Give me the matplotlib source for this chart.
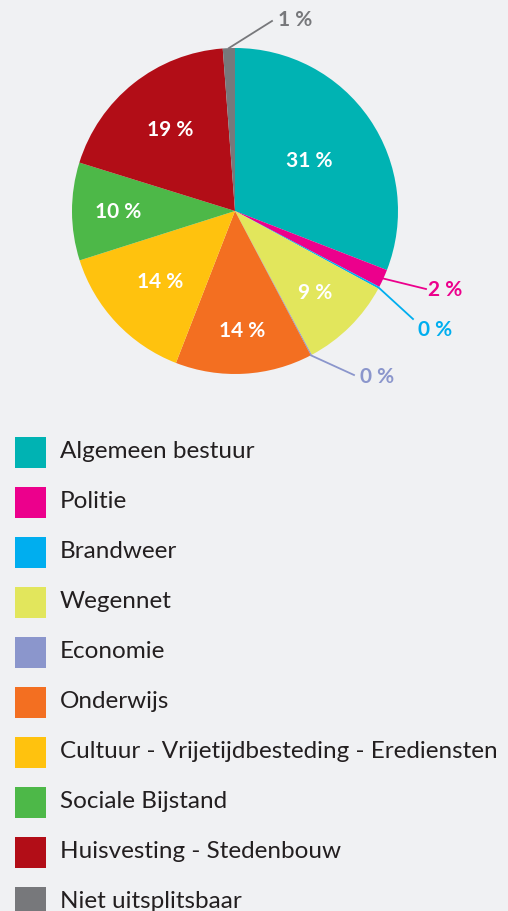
import numpy as np
import matplotlib.pyplot as plt
from matplotlib.patches import Rectangle

# categories en waarden (percentages)
categorieen = ["Algemeen bestuur", "Politie", "Brandweer", "Wegennet", "Economie",
               "Onderwijs", "Cultuur - Vrijetijdbesteding - Erediensten",
               "Sociale Bijstand", "Huisvesting - Stedenbouw", "Niet uitsplitsbaar"]
waarden = [30.9, 1.8, 0.2, 9.3, 0.1, 13.6, 14.2, 9.7, 19.0, 1.2]
labels = ["31 %", "2 %", "0 %", "9 %", "0 %", "14 %", "14 %", "10 %", "19 %", "1 %"]
kleuren = ["#00B3B3", "#EC008C", "#00AEEF", "#E2E65C", "#8B96CC",
           "#F36F21", "#FFC20E", "#4DB848", "#B20D17", "#77787B"]
# afstand van label tot middelpunt (None = label buiten de taart)
afstand = [0.55, None, None, 0.70, None, 0.73, 0.63, 0.72, 0.64, None]

achtergrond = "#F0F1F3"
W, H = 508, 912
fig = plt.figure(figsize=(W / 100, H / 100), dpi=100, facecolor=achtergrond)
ax = fig.add_axes([0, 0, 1, 1])
ax.set_xlim(0, W)
ax.set_ylim(0, H)
ax.set_aspect("equal")
ax.axis("off")

cx, cy, R = 235, H - 212, 163
wedges, _ = ax.pie(waarden, colors=kleuren, startangle=90, counterclock=False,
                   center=(cx, cy), radius=R, wedgeprops=dict(linewidth=0))
ax.set_xlim(0, W)
ax.set_ylim(0, H)

# labels binnen de taart
for w, lab, d in zip(wedges, labels, afstand):
    if d is None:
        continue
    hoek = np.deg2rad((w.theta1 + w.theta2) / 2)
    ax.text(cx + d * R * np.cos(hoek), cy + d * R * np.sin(hoek), lab,
            color="white", fontsize=15, fontweight="bold", family="Lato",
            ha="center", va="center")

# labels buiten de taart met lijntjes
buiten = {1: ((426, H - 290), (445, H - 290)),
          2: ((413, H - 320), (435, H - 330)),
          4: ((354, H - 376), (377, H - 377)),
          9: ((272, H - 22), (295, H - 20))}
for i, (eind, pos) in buiten.items():
    w = wedges[i]
    hoek = np.deg2rad((w.theta1 + w.theta2) / 2)
    if i == 4:
        hoek = np.deg2rad(w.theta1)
    sx, sy = cx + R * np.cos(hoek), cy + R * np.sin(hoek)
    ax.plot([sx, eind[0]], [sy, eind[1]], color=kleuren[i], lw=1.3)
    ax.text(pos[0], pos[1], labels[i], color=kleuren[i], fontsize=15,
            fontweight="bold", family="Lato", ha="center", va="center")

# legenda
for j, (naam, kl) in enumerate(zip(categorieen, kleuren)):
    y = H - (453 + 50 * j)
    ax.add_patch(Rectangle((15, y - 15.5), 31, 31, color=kl, lw=0))
    ax.text(60, y + 1, naam, fontsize=17.5, color="#231F20", family="Lato",
            ha="left", va="center")

fig.savefig("out.png", dpi=100, facecolor=achtergrond)
